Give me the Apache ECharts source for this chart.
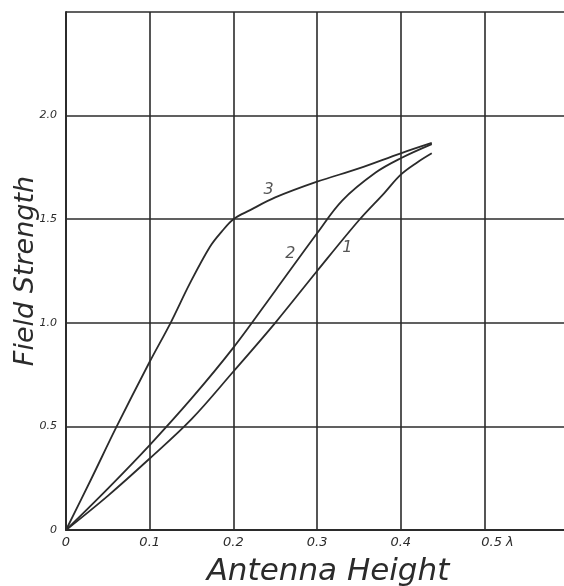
<!DOCTYPE html>
<html>
<head>
<meta charset="utf-8">
<script src="https://cdn.jsdelivr.net/npm/echarts@6/dist/echarts.min.js"></script>
<style>html,body{margin:0;padding:0;background:#fff}#c{width:564px;height:586px}</style>
</head>
<body>
<div id="c"></div>
<script>
// Data (x = antenna height in wavelengths, y = field strength)
const curve1 = [[0,0],[0.05,0.165],[0.1,0.345],[0.15,0.535],[0.2,0.765],[0.25,1.0],[0.3,1.25],[0.35,1.495],[0.38,1.625],[0.4,1.715],[0.42,1.775],[0.437,1.818]];
const curve2 = [[0,0],[0.05,0.2],[0.1,0.41],[0.15,0.635],[0.2,0.88],[0.25,1.155],[0.3,1.432],[0.33,1.59],[0.37,1.725],[0.4,1.794],[0.437,1.862]];
const curve3 = [[0,0],[0.03,0.245],[0.06,0.495],[0.1,0.812],[0.125,1.0],[0.148,1.19],[0.172,1.367],[0.186,1.44],[0.2,1.5],[0.22,1.544],[0.25,1.605],[0.3,1.681],[0.35,1.745],[0.4,1.818],[0.437,1.868]];
const curveNames = ['1','2','3'];
const curveLabelPoints = [[0.336,1.36],[0.268,1.335],[0.242,1.641]];
const xTickLabels = {0:'0',0.1:'0.1',0.2:'0.2',0.3:'0.3',0.4:'0.4',0.5:'0.5 λ'};
const yTickLabels = {0:'0',0.5:'0.5',1:'1.0',1.5:'1.5',2:'2.0',2.5:''};
const xTitle = 'Antenna Height';
const yTitle = 'Field Strength';

const ink = '#2b2b2b';
const font = 'DejaVu Sans';
const chart = echarts.init(document.getElementById('c'), null, {renderer:'canvas'});

function lineSeries(data){
  return {type:'line', data:data, smooth:0.35, showSymbol:false, symbol:'none',
    lineStyle:{color:ink, width:1.8}, silent:true, z:3};
}
function key(v){ return Math.round(v*10)/10; }

chart.setOption({
  animation:false,
  backgroundColor:'#fff',
  grid:{left:66, top:12, right:0, bottom:56, containLabel:false, outerBoundsMode:'none'},
  xAxis:{type:'value', min:0, max:0.595, interval:0.1,
    axisLine:{show:true, onZero:false, lineStyle:{color:ink, width:2}},
    axisTick:{show:false},
    splitLine:{show:true, showMaxLine:false, lineStyle:{color:ink, width:1.6}},
    axisLabel:{margin:6, color:ink, fontFamily:font, fontStyle:'italic', fontSize:13, showMaxLabel:false,
      formatter:function(v){
        const t = xTickLabels[key(v)];
        if (t === undefined || Math.abs(v - key(v)) > 1e-6) return '';
        if (key(v) === 0.5) return '{p|}' + t;
        return t;
      },
      rich:{p:{width:26}}
    },
    name:xTitle, nameLocation:'middle', nameGap:26,
    nameTextStyle:{color:ink, fontFamily:font, fontStyle:'italic', fontSize:31, fontWeight:'lighter', padding:[0,0,0,26]}
  },
  yAxis:{type:'value', min:0, max:2.5, interval:0.5,
    axisLine:{show:true, onZero:false, lineStyle:{color:ink, width:2}},
    axisTick:{show:false},
    splitLine:{show:true, lineStyle:{color:ink, width:1.6}},
    axisLabel:{margin:9, color:ink, fontFamily:font, fontStyle:'italic', fontSize:11,
      formatter:function(v){ const t = yTickLabels[Math.round(v*2)/2]; return t === undefined ? '' : t; }
    },
    name:yTitle, nameLocation:'middle', nameGap:27, nameMoveOverlap:false,
    nameTextStyle:{color:ink, fontFamily:font, fontStyle:'italic', fontSize:27, fontWeight:'lighter'}
  },
  series:[
    lineSeries(curve1),
    lineSeries(curve2),
    lineSeries(curve3),
    {type:'scatter', symbolSize:0, silent:true, z:4,
      data:curveLabelPoints.map(function(p,i){ return {value:p, name:curveNames[i]}; }),
      label:{show:true, position:'inside', formatter:'{b}', color:ink, fontFamily:font, fontStyle:'italic', fontSize:16}
    }
  ]
});
</script>
</body>
</html>
